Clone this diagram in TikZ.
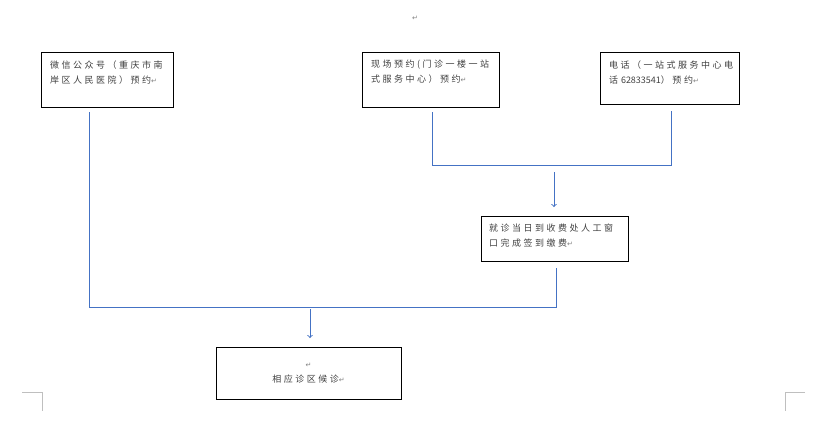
\documentclass[tikz,border=0pt]{standalone}
\usepackage{fontspec}
\usepackage{tikz}
\usetikzlibrary{arrows,calc}

\newfontfamily\cjk[LetterSpace=28]{Noto Sans CJK SC}
\newfontfamily\cjknum{Noto Sans CJK SC}
\newfontfamily\symb{DejaVu Sans}
\newcommand{\enterkey}{{\symb\fontsize{7}{7}\selectfont\color{black!50}↵}}
\definecolor{linkblue}{HTML}{4472C4}

\begin{document}
\begin{tikzpicture}[x=1pt,y=-1pt,>=to,
    box/.style={draw,line width=1pt,anchor=north west,outer sep=0pt,inner xsep=9pt,
                align=left,text=black!75,font=\cjk\fontsize{9}{15.5}\selectfont},
    topbox/.style={box,text height=8pt},
    link/.style={draw=linkblue,line width=1pt},
    cornermark/.style={draw=black!25,line width=1pt}]
  \useasboundingbox (0,0) rectangle (832,424);

  \node[topbox,minimum width=132pt,text width=114pt,inner ysep=8.4pt,text depth=30.2pt] (1) at (41,52)
    {微信公众号（重庆市南\\岸区人民医院）预约\enterkey};
  \node[topbox,minimum width=137pt,text width=119pt,inner ysep=7.4pt,text depth=32.2pt] (2) at (362,52)
    {现场预约(门诊一楼一站\\式服务中心）预约\enterkey};
  \node[topbox,minimum width=139pt,text width=121pt,inner ysep=8.4pt,text depth=27.2pt] (3) at (600,52)
    {电话（一站式服务中心电\\话 {\cjknum 62833541}）预约\enterkey};
  \node[topbox,minimum width=147pt,text width=131pt,inner xsep=8pt,inner ysep=7.4pt,text depth=22.2pt] (4) at (481,216)
    {就诊当日到收费处人工窗\\口完成签到缴费\enterkey};
  \node[box,align=center,minimum width=185pt,minimum height=52pt] (5) at (216,347)
    {\enterkey\\相应诊区候诊\enterkey};

  \node (top) at (415,18) {\enterkey};

  % junctions
  \coordinate (t1) at (432,165);
  \coordinate (t2) at (671,165);
  \coordinate (t3) at (554,165);
  \coordinate (m1) at (89,307);
  \coordinate (m2) at (556,307);
  \coordinate (m3) at (310,307);

  \path[link,shorten <=5pt,shorten >=7pt] (2.south -| t1) -- (t1) -- (t2) -- (3.south -| t2);
  \path[link,->,shorten <=7pt,shorten >=9pt] (t3) -- (t3 |- 4.north);
  \path[link,shorten <=5pt,shorten >=7pt] (1.south -| m1) -- (m1) -- (m2) -- (4.south -| m2);
  \path[link,->,shorten <=2pt,shorten >=9pt] (m3) -- (m3 |- 5.north);

  % page corners
  \path[cornermark] (22,392) -- (42,392) -- (42,411);
  \path[cornermark] (805,392) -- (785,392) -- (785,411);
\end{tikzpicture}
\end{document}
